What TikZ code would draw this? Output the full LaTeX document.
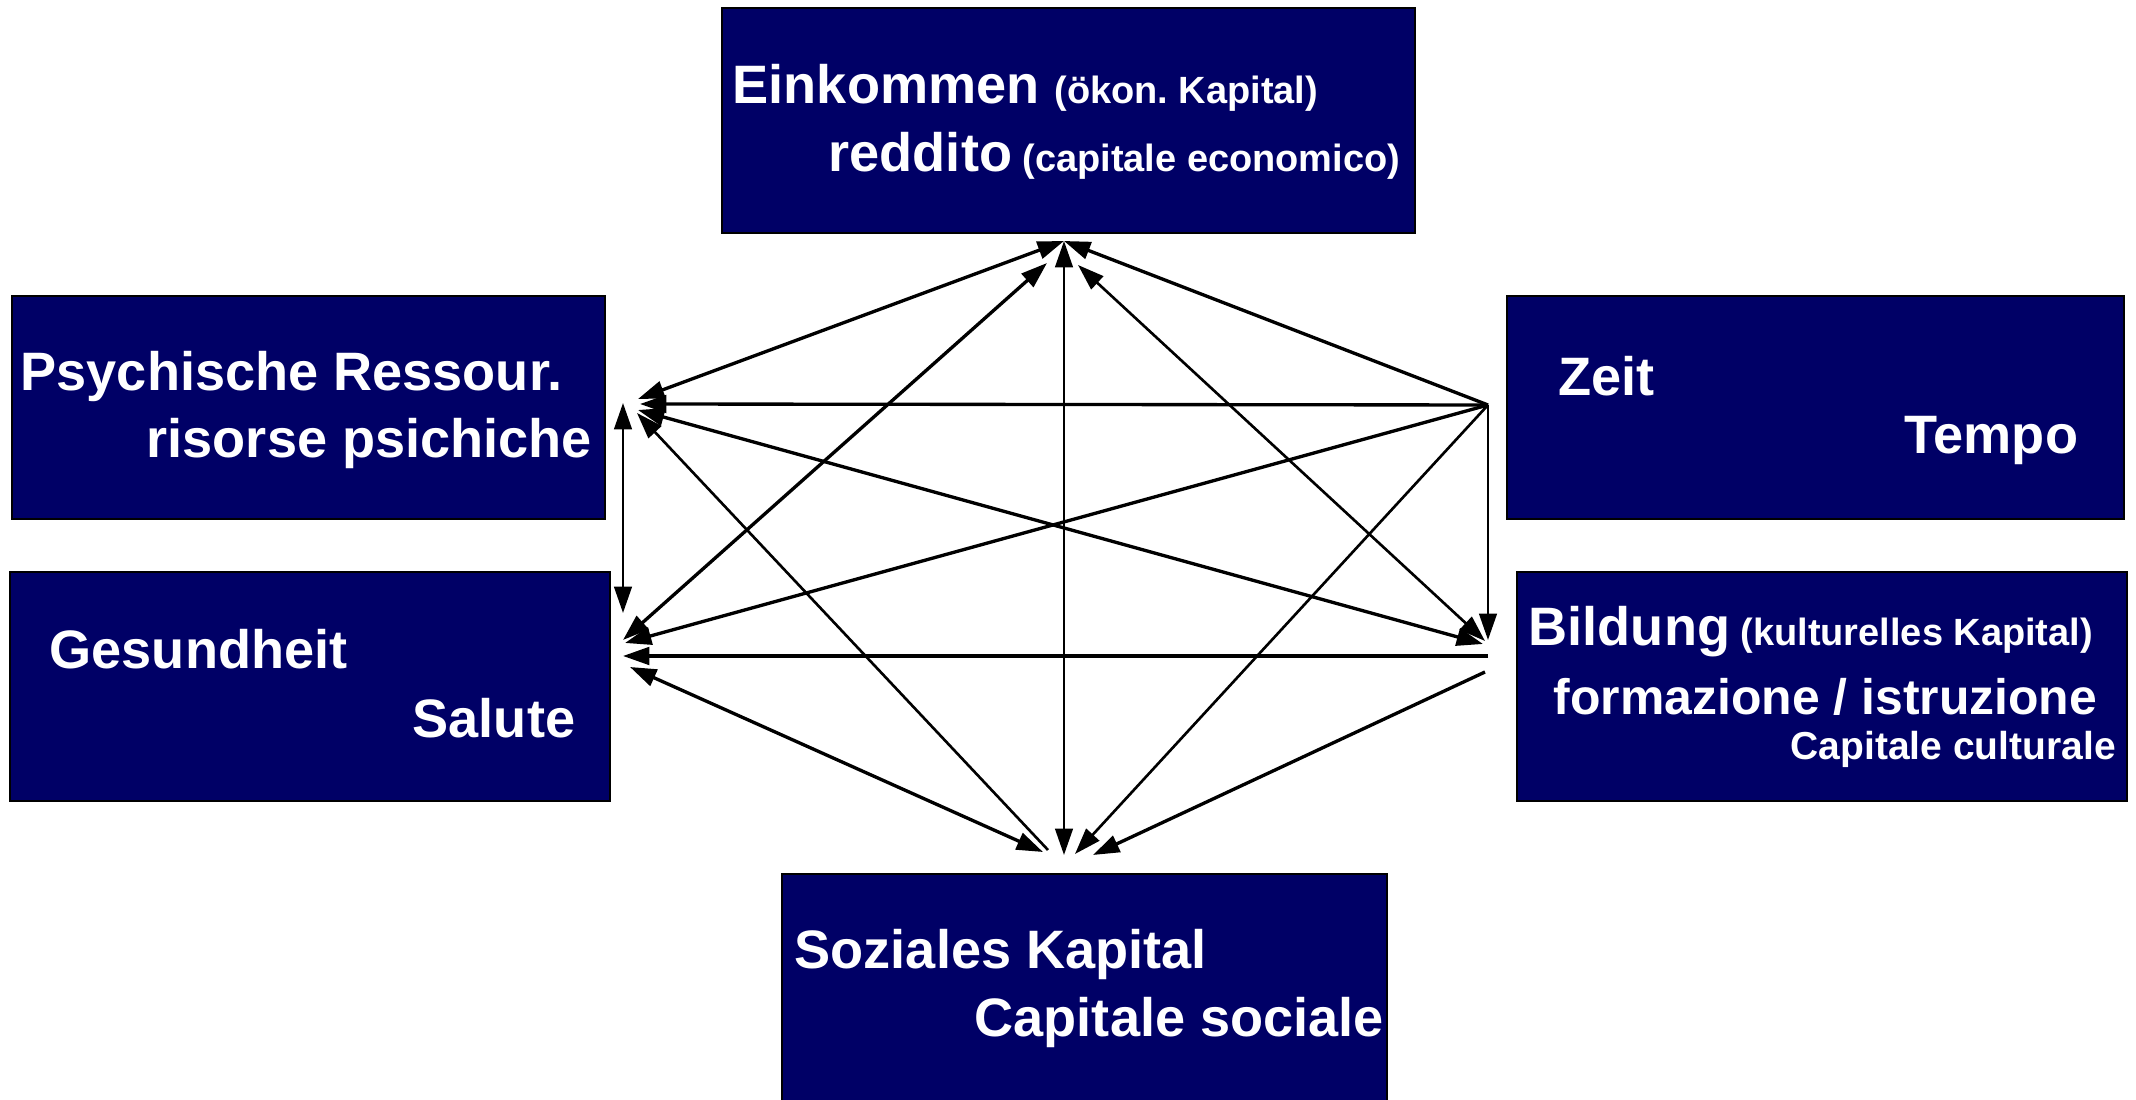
\documentclass[tikz,border=0pt]{standalone}
\usepackage{fontspec}
\setmainfont{Liberation Sans}
\usetikzlibrary{arrows.meta}
\frenchspacing

\definecolor{boxblue}{RGB}{0,0,102}

\tikzset{
	box/.style={draw=black, line width=0.4pt, fill=boxblue, inner sep=0pt},
	big/.style={anchor=base west, inner sep=0pt, text=white, font=\fontsize{15.4}{18}\selectfont\bfseries},
	mid/.style={big, font=\fontsize{14.2}{17}\selectfont\bfseries},
	small/.style={big, font=\fontsize{11.1}{13}\selectfont\bfseries},
	hd/.tip={Triangle[length=7.5pt,width=5pt]},
	link/.style={line width=0.95pt},
	thinlink/.style={line width=0.75pt}
}
\newcommand{\sm}{\fontsize{10.8}{13}\selectfont}

\begin{document}
\begin{tikzpicture}
	[x=0.1mm, y=-0.1mm]
	\useasboundingbox (0,0) rectangle (2136,1100);

	% boxes
	\node[box, minimum width=69.3mm, minimum height=22.5mm] (ein) at (1068.5,120.5) {};
	\node[box, minimum width=59.3mm, minimum height=22.3mm] (psy) at (308.5,407.5) {};
	\node[box, minimum width=61.7mm, minimum height=22.3mm] (zeit) at (1815.5,407.5) {};
	\node[box, minimum width=60mm, minimum height=22.9mm] (ges) at (310,686.5) {};
	\node[box, minimum width=61mm, minimum height=22.9mm] (bil) at (1822,686.5) {};
	\node[box, minimum width=60.5mm, minimum height=23.6mm] (soz) at (1084.5,992) {};

	% texts
	\node[big] (einA) at (732,104) {Einkommen {\sm(ökon. Kapital)}};
	\node[big] (einB) at (828,172) {reddito{\sm\ (capitale economico)}};
	\node[big] (psyA) at (20,391) {Psychische Ressour.};
	\node[big] (psyB) at (146,458) {risorse psichiche};
	\node[big] (zeitA) at (1558,396) {Zeit};
	\node[big] (zeitB) at (1904,454) {Tempo};
	\node[big] (gesA) at (49,669) {Gesundheit};
	\node[big] (gesB) at (412,738) {Salute};
	\node[big] (bilA) at (1528,646) {Bildung{\sm\ (kulturelles Kapital)}};
	\node[mid] (bilB) at (1553,715) {formazione / istruzione};
	\node[small] (bilC) at (1790,760) {Capitale culturale};
	\node[big] (sozA) at (794,969) {Soziales Kapital};
	\node[big] (sozB) at (974,1037) {Capitale sociale};

	% arrow ends
	\coordinate (e0) at (1064,241);
	\coordinate (eG) at (1047,263);
	\coordinate (eB) at (1078,265);
	\coordinate (pE) at (638,399);
	\coordinate (pZ) at (640,404);
	\coordinate (pB) at (638,410);
	\coordinate (pS) at (637,413);
	\coordinate (pG) at (623,403);
	\coordinate (gP) at (623,613);
	\coordinate (gE) at (623,640);
	\coordinate (gZ) at (625,643);
	\coordinate (gB) at (623,656);
	\coordinate (gS) at (630,667);
	\coordinate (z0) at (1488,405);
	\coordinate (bE) at (1485,641);
	\coordinate (bP) at (1483,644);
	\coordinate (bZ) at (1488,640);
	\coordinate (bG) at (1488,656);
	\coordinate (bS) at (1485,672);
	\coordinate (sG) at (1043,852);
	\coordinate (sP) at (1048,850);
	\coordinate (sE) at (1064,855);
	\coordinate (sZ) at (1075,854);
	\coordinate (sB) at (1093,855);

	% links
	\draw[link, hd-hd] (pE) -- (e0);
	\draw[link, hd-hd] (gE) -- (eG);
	\draw[thinlink, hd-hd] (e0) -- (sE);
	\draw[thinlink, hd-hd] (eB) -- (bE);
	\draw[link, hd-hd] (pB) -- (bP);
	\draw[thinlink, hd-hd] (pG) -- (gP);
	\draw[thinlink, -hd] (sP) -- (pS);
	\draw[link, hd-hd] (gS) -- (sG);
	\draw[link, -hd] (bG) -- (gB);
	\draw[link, -hd] (bS) -- (sB);

	\draw[link, -hd] (z0) -- (e0);
	\draw[link, -hd] (z0) -- (pZ);
	\draw[link, -hd] (z0) -- (gZ);
	\draw[thinlink, -hd] (z0) -- (bZ);
	\draw[thinlink, -hd] (z0) -- (sZ);

\end{tikzpicture}
\end{document}
